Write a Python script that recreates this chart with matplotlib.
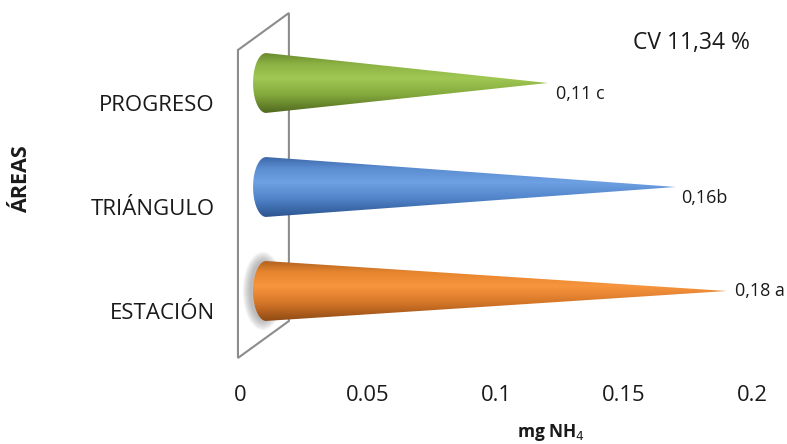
import numpy as np
import matplotlib.pyplot as plt
from matplotlib.patches import Polygon, Ellipse
from matplotlib.colors import LinearSegmentedColormap

plt.rcParams['font.family'] = ['Open Sans', 'DejaVu Sans']

areas = ['ESTACIÓN', 'TRIÁNGULO', 'PROGRESO']
values = [0.18, 0.16, 0.11]
labels = ['0,18 a', '0,16b', '0,11 c']
xticks = [0, 0.05, 0.1, 0.15, 0.2]
xtick_labels = ['0', '0.05', '0.1', '0.15', '0.2']

# shading of each cone, bottom edge -> highlight -> top edge
cone_colors = [
    ['#8f4a14', '#d57628', '#f7953e', '#e6852f', '#b2621f'],
    ['#2c5490', '#5083c8', '#6ea1e3', '#5a8cd0', '#3d68a8'],
    ['#50691f', '#83a83c', '#a0c853', '#8cb244', '#6a8a2c'],
]
shade_pos = [0.0, 0.3, 0.58, 0.82, 1.0]
label_offsets = [(6, 0), (4, -8), (6, -8)]

DEPTH = 0.0102   # cones sit half way into the 3d floor
BASE_W = 0.0051  # half width of the base ellipse
BASE_H = 0.288   # half height of the cone base

fig = plt.figure(figsize=(7.87, 4.44), dpi=100)
ax = fig.add_axes([240 / 787, 80 / 444, 512 / 787, 364 / 444])
ax.set_xlim(0, 0.2)
ax.set_ylim(-0.702, 2.798)

# back wall of the 3d plot
wall = Polygon([(-0.0008, -0.644), (0.0191, -0.289), (0.0191, 2.673), (-0.0008, 2.317)],
               closed=True, fill=False, edgecolor='#8c8c8c', lw=1.5, clip_on=False, zorder=1)
ax.add_patch(wall)

for i, (v, cols) in enumerate(zip(values, cone_colors)):
    cx = DEPTH
    tip = DEPTH + v
    t = np.linspace(np.pi / 2, 3 * np.pi / 2, 60)
    pts = [(cx + BASE_W * np.cos(a), i + BASE_H * np.sin(a)) for a in t]
    pts.append((tip, i))
    poly = Polygon(pts, closed=True, facecolor='none', edgecolor='none', zorder=3)
    ax.add_patch(poly)
    if i == 0:
        # soft shadow behind the base of the first cone
        for k in range(8):
            ax.add_patch(Ellipse((cx - 0.0012, i), 2 * BASE_W + 0.0008 * k,
                                 2 * BASE_H + 0.025 * k, color='#6e6e6e',
                                 alpha=0.07, lw=0, zorder=2))
    cmap = LinearSegmentedColormap.from_list('c%d' % i, list(zip(shade_pos, cols)))
    grad = np.linspace(0, 1, 200).reshape(-1, 1)
    im = ax.imshow(grad, cmap=cmap, aspect='auto', origin='lower',
                   extent=[cx - BASE_W, tip, i - BASE_H, i + BASE_H], zorder=3,
                   interpolation='bilinear')
    im.set_clip_path(poly)
    ax.annotate(labels[i], (tip, i), xytext=label_offsets[i], textcoords='offset points',
                ha='left', va='center', fontsize=13, color='#1a1a1a')

ax.set_xlim(0, 0.2)
ax.set_ylim(-0.702, 2.798)

for s in ax.spines.values():
    s.set_visible(False)
ax.set_xticks(xticks)
ax.set_xticklabels(xtick_labels, fontsize=15.8, color='#1a1a1a')
ax.tick_params(axis='x', length=0, pad=15)
ax.set_yticks([])

for i, name in enumerate(areas):
    ax.text(-0.0098, i - 0.22, name, ha='right', va='center', fontsize=16, color='#1a1a1a')

fig.text(22 / 787, 1 - 179 / 444, 'ÁREAS', rotation=90, ha='center', va='center',
         fontsize=15.5, fontweight='bold', color='#1a1a1a')
fig.text(551 / 787, 1 - 432 / 444, 'mg NH$_4$', ha='center', va='center',
         fontsize=12.5, fontweight='bold', color='#1a1a1a')
fig.text(691 / 787, 1 - 43 / 444, 'CV 11,34 %', ha='center', va='center',
         fontsize=16.5, color='#1a1a1a')

fig.savefig('out.png', dpi=100)
